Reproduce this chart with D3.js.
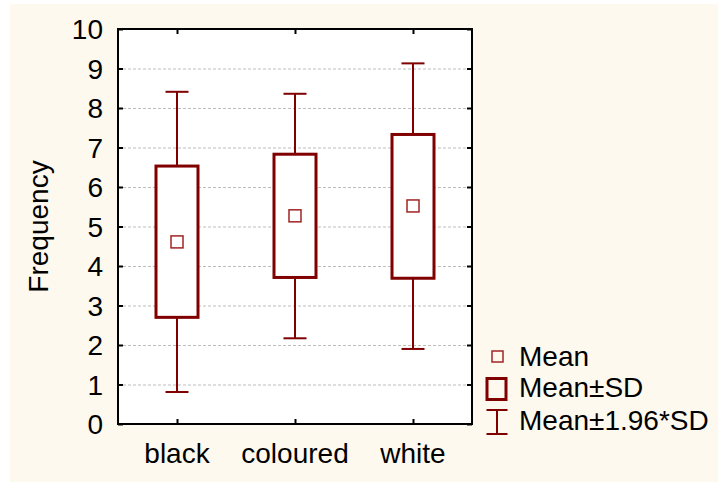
<!DOCTYPE html>
<html><head><meta charset="utf-8">
<script src="https://cdn.jsdelivr.net/npm/d3@7"></script>
<style>html,body{margin:0;padding:0;background:#fff;}svg{display:block;}</style>
</head><body>
<script>
const categories = ["black", "coloured", "white"];
const means = [4.61, 5.27, 5.52];
const sdLow = [2.70, 3.71, 3.69];
const sdHigh = [6.53, 6.83, 7.33];
const ciLow = [0.81, 2.17, 1.90];
const ciHigh = [8.41, 8.36, 9.13];
const yTicks = [0,1,2,3,4,5,6,7,8,9,10];
const legendLabels = ["Mean", "Mean\u00b1SD", "Mean\u00b11.96*SD"];

const W = 718, H = 482;
const m = {left:118, right:472, top:29, bottom:424};
const red = "#800000", meanRed = "#a02424";
const font = "Liberation Sans, Arial, sans-serif";

const svg = d3.select("body").append("svg").attr("width", W).attr("height", H);
svg.append("rect").attr("x",10).attr("y",4).attr("width",W-10).attr("height",H-4).attr("fill","#fdf9ee");
svg.append("rect").attr("x",m.left).attr("y",m.top).attr("width",m.right-m.left).attr("height",m.bottom-m.top).attr("fill","#fff");

const x = d3.scalePoint().domain(categories).range([m.left, m.right]).padding(0.5);
const y = d3.scaleLinear().domain([0,10]).range([m.bottom, m.top]);

// gridlines
svg.append("g").selectAll("line").data(yTicks.filter(t=>t>0&&t<10)).join("line")
  .attr("x1", m.left+5).attr("x2", m.right-5)
  .attr("y1", d=>y(d)+0.5).attr("y2", d=>y(d)+0.5)
  .attr("stroke", "#bdbdbd").attr("stroke-width",1).attr("stroke-dasharray","3,2");

// axes (ticks inside)
const axL = d3.axisRight(y).tickValues(yTicks).tickSize(5).tickFormat("");
const axR = d3.axisLeft(y).tickValues(yTicks).tickSize(5).tickFormat("");
const axB = d3.axisTop(x).tickSize(5).tickFormat("");
const axT = d3.axisBottom(x).tickSize(5).tickFormat("");
function styleAx(g){ g.selectAll("path").remove(); g.selectAll("line").attr("stroke","#000").attr("stroke-width",2); }
svg.append("g").attr("transform",`translate(${m.left},0)`).call(axL).call(styleAx);
svg.append("g").attr("transform",`translate(${m.right},0)`).call(axR).call(styleAx);
svg.append("g").attr("transform",`translate(0,${m.bottom})`).call(axB).call(styleAx);
svg.append("g").attr("transform",`translate(0,${m.top})`).call(axT).call(styleAx);
svg.append("rect").attr("x",m.left).attr("y",m.top).attr("width",m.right-m.left).attr("height",m.bottom-m.top)
  .attr("fill","none").attr("stroke","#000").attr("stroke-width",2);

// tick labels
svg.append("g").selectAll("text").data(yTicks).join("text")
  .attr("x", 103).attr("y", d=>y(d)).attr("dy","0.36em").attr("text-anchor","end")
  .attr("font-family",font).attr("font-size",28).attr("fill","#000").text(d=>d);
svg.append("g").selectAll("text").data(categories).join("text")
  .attr("x", d=>x(d)).attr("y", 463).attr("text-anchor","middle")
  .attr("font-family",font).attr("font-size",28).attr("fill","#000").text(d=>d);
svg.append("text").attr("transform",`translate(48,${(m.top+m.bottom)/2}) rotate(-90)`)
  .attr("text-anchor","middle").attr("font-family",font).attr("font-size",28).attr("fill","#000").text("Frequency");

// boxes
const g = svg.append("g");
categories.forEach((c,i)=>{
  const cx = x(c);
  g.append("line").attr("x1",cx).attr("x2",cx).attr("y1",y(ciHigh[i])).attr("y2",y(sdHigh[i])).attr("stroke",red).attr("stroke-width",2);
  g.append("line").attr("x1",cx).attr("x2",cx).attr("y1",y(sdLow[i])).attr("y2",y(ciLow[i])).attr("stroke",red).attr("stroke-width",2);
  [ciHigh[i], ciLow[i]].forEach(v=>{
    g.append("line").attr("x1",cx-11.5).attr("x2",cx+11.5).attr("y1",y(v)).attr("y2",y(v)).attr("stroke",red).attr("stroke-width",2);
  });
  g.append("rect").attr("x",cx-21).attr("y",y(sdHigh[i])).attr("width",42).attr("height",y(sdLow[i])-y(sdHigh[i]))
    .attr("fill","#fff").attr("stroke",red).attr("stroke-width",3);
  g.append("rect").attr("x",cx-6).attr("y",y(means[i])-6).attr("width",12).attr("height",12)
    .attr("fill","none").attr("stroke",meanRed).attr("stroke-width",1.5);
});

// legend
const lg = svg.append("g");
const ly = [366, 397, 430];
lg.append("rect").attr("x",492).attr("y",351).attr("width",11).attr("height",11).attr("fill","none").attr("stroke",meanRed).attr("stroke-width",1.5);
lg.append("rect").attr("x",487).attr("y",378.5).attr("width",19).attr("height",21).attr("fill","none").attr("stroke",red).attr("stroke-width",3);
lg.append("line").attr("x1",497).attr("x2",497).attr("y1",410).attr("y2",434).attr("stroke",red).attr("stroke-width",2);
lg.append("line").attr("x1",486.5).attr("x2",507.5).attr("y1",410).attr("y2",410).attr("stroke",red).attr("stroke-width",2);
lg.append("line").attr("x1",486.5).attr("x2",507.5).attr("y1",434).attr("y2",434).attr("stroke",red).attr("stroke-width",2);
lg.selectAll("text").data(legendLabels).join("text")
  .attr("x",519).attr("y",(d,i)=>ly[i]).attr("font-family",font).attr("font-size",28).attr("fill","#000").text(d=>d);
</script>
</body></html>
